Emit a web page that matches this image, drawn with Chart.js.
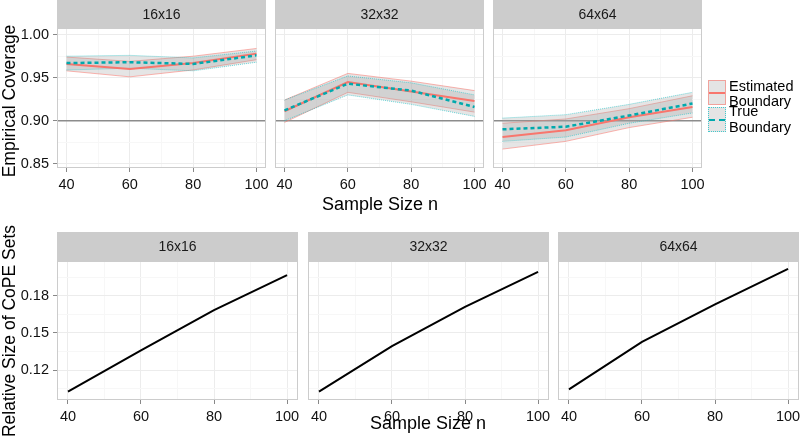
<!DOCTYPE html>
<html>
<head>
<meta charset="utf-8">
<script src="https://cdn.jsdelivr.net/npm/chart.js@4"></script>
<style>
  html, body { margin: 0; padding: 0; background: #fff; }
  #wrap { position: relative; width: 800px; height: 443px; overflow: hidden;
          font-family: "Liberation Sans", Arial, sans-serif; color: #000; }
  #wrap canvas { position: absolute; left: 0; top: 0; }
  .txt { position: absolute; white-space: nowrap; line-height: 16px; }
  .ytitle { position: absolute; font-size: 17.5px; white-space: nowrap;
            transform: translate(-50%, -50%) rotate(-90deg); }
  .xtitle { position: absolute; font-size: 18px; white-space: nowrap;
            transform: translate(-50%, -50%); }
  .key { position: absolute; left: 708px; width: 18px; height: 25px;
         background: #e4e4e4; box-sizing: border-box; }
  .key i { position: absolute; left: 0; right: 0; top: 11px; height: 0; }
</style>
</head>
<body>
<div id="wrap">
  <canvas id="c0" width="800" height="443"></canvas>
  <canvas id="c1" width="800" height="443"></canvas>
  <canvas id="c2" width="800" height="443"></canvas>
  <canvas id="c3" width="800" height="443"></canvas>
  <canvas id="c4" width="800" height="443"></canvas>
  <canvas id="c5" width="800" height="443"></canvas>

  <div class="ytitle" style="left:9px; top:101px;">Empirical Coverage</div>
  <div class="xtitle" style="left:380px; top:204px;">Sample Size n</div>
  <div class="ytitle" style="left:9px; top:331px;">Relative Size of CoPE Sets</div>
  <div class="xtitle" style="left:428px; top:423px;">Sample Size n</div>

  <!-- legend -->
  <div class="key" style="top:80px; border:1px solid rgba(248,118,109,0.6);">
    <i style="border-top:2px solid #F8766D;"></i></div>
  <div class="key" style="top:107px; border:1px dotted rgba(0,191,196,0.7);">
    <i style="border-top:2px dashed #00A9AD;"></i></div>
  <div class="txt" style="left:729px; top:78px; font-size:14.5px;">Estimated</div>
  <div class="txt" style="left:729px; top:93px; font-size:14.5px;">Boundary</div>
  <div class="txt" style="left:729px; top:103px; font-size:14.5px;">True</div>
  <div class="txt" style="left:729px; top:119px; font-size:14.5px;">Boundary</div>
</div>

<script>
// ------------------------------------------------------------------
// Data
// ------------------------------------------------------------------

const nValues = [40, 60, 80, 100];
const facetNames = ["16x16", "32x32", "64x64"];

const xTicks = [40, 60, 80, 100];
const xMinor = [50, 70, 90];
const coverageTicks = [0.85, 0.90, 0.95, 1.00];
const coverageMinor = [0.875, 0.925, 0.975];
const sizeTicks = [0.12, 0.15, 0.18];
const sizeMinor = [0.105, 0.135, 0.165, 0.195];
const nominalLevel = 0.90;

// Estimated boundary coverage, with band
const est16   = [0.966, 0.960, 0.967, 0.978];
const estLo16 = [0.958, 0.951, 0.959, 0.971];
const estHi16 = [0.974, 0.969, 0.975, 0.984];
const est32   = [0.911, 0.945, 0.934, 0.923];
const estLo32 = [0.898, 0.933, 0.922, 0.910];
const estHi32 = [0.924, 0.955, 0.946, 0.935];
const est64   = [0.881, 0.889, 0.904, 0.916];
const estLo64 = [0.867, 0.876, 0.892, 0.904];
const estHi64 = [0.897, 0.902, 0.914, 0.929];

// True boundary coverage, with band
const true16   = [0.967, 0.968, 0.966, 0.976];
const trueLo16 = [0.959, 0.961, 0.958, 0.968];
const trueHi16 = [0.975, 0.976, 0.973, 0.981];
const true32   = [0.912, 0.943, 0.935, 0.916];
const trueLo32 = [0.900, 0.930, 0.919, 0.905];
const trueHi32 = [0.924, 0.952, 0.944, 0.930];
const true64   = [0.890, 0.893, 0.906, 0.920];
const trueLo64 = [0.876, 0.881, 0.897, 0.909];
const trueHi64 = [0.903, 0.907, 0.919, 0.933];

// Relative size of CoPE sets
const size16 = [0.1025, 0.1360, 0.1685, 0.1967];
const size32 = [0.1025, 0.1394, 0.1711, 0.1994];
const size64 = [0.1044, 0.1428, 0.1731, 0.2018];

// ------------------------------------------------------------------
// Layout
// ------------------------------------------------------------------

const W = 800, H = 443;
const Y_AXIS_W = 40;
const X_AXIS_H = 30;

const topPanels = [
  { L: 57,  R: 266 },
  { L: 275, R: 484 },
  { L: 493, R: 702 },
];
const bottomPanels = [
  { L: 57,  R: 298 },
  { L: 308, R: 549 },
  { L: 558, R: 799 },
];

const STRIP_FILL = "#cccccc";
const PANEL_BORDER = "#cccccc";
const GRID_MAJOR = "#ececec";
const GRID_MINOR = "#f7f7f7";
const RED = "#F8766D";
const TEAL = "#00A9AD";

// ------------------------------------------------------------------
// Plugins
// ------------------------------------------------------------------

const stripPlugin = {
  id: "strip",
  afterDraw(chart, args, opts) {
    const { ctx, chartArea: a } = chart;
    ctx.save();
    ctx.fillStyle = STRIP_FILL;
    ctx.fillRect(a.left, a.top - opts.height, a.right - a.left, opts.height);
    ctx.strokeStyle = PANEL_BORDER;
    ctx.lineWidth = 1;
    ctx.strokeRect(a.left + 0.5, a.top + 0.5, a.right - a.left - 1, a.bottom - a.top - 1);
    ctx.fillStyle = "#1a1a1a";
    ctx.font = "14px 'Liberation Sans', Arial, sans-serif";
    ctx.textAlign = "center";
    ctx.textBaseline = "middle";
    ctx.fillText(opts.label, (a.left + a.right) / 2, a.top - opts.height / 2 + 1);
    ctx.restore();
  },
};

const hlinePlugin = {
  id: "hline",
  beforeDatasetsDraw(chart, args, opts) {
    if (opts.value == null) return;
    const { ctx, chartArea: a } = chart;
    const y = chart.scales.y.getPixelForValue(opts.value);
    ctx.save();
    ctx.strokeStyle = "#8c8c8c";
    ctx.lineWidth = 1.5;
    ctx.beginPath();
    ctx.moveTo(a.left, y);
    ctx.lineTo(a.right, y);
    ctx.stroke();
    ctx.restore();
  },
};

// ------------------------------------------------------------------
// Helpers
// ------------------------------------------------------------------

function pts(values) {
  return values.map((v, i) => ({ x: nValues[i], y: v }));
}

function tickScale(major, minor, min, max, fmt, showLabels, fixSize) {
  const all = major.concat(minor).sort((a, b) => a - b);
  const isMajor = v => major.some(m => Math.abs(m - v) < 1e-9);
  return {
    type: "linear",
    min, max,
    afterBuildTicks: s => { s.ticks = all.map(v => ({ value: v })); },
    afterFit: fixSize,
    ticks: {
      display: showLabels,
      autoSkip: false,
      maxRotation: 0,
      padding: 4,
      color: "#111",
      font: { family: "'Liberation Sans', Arial, sans-serif", size: 14.5 },
      callback: v => isMajor(v) ? fmt(v) : "",
    },
    grid: {
      color: c => (c.tick && isMajor(c.tick.value)) ? GRID_MAJOR : GRID_MINOR,
      tickColor: c => (c.tick && isMajor(c.tick.value)) ? "#888" : "rgba(0,0,0,0)",
      tickLength: 4,
      drawTicks: showLabels,
    },
    border: { display: false },
  };
}

function makePanel(id, panel, T, B, stripH, label, yOpts, datasets, hline) {
  const showY = panel.L === 57;
  const yW = showY ? Y_AXIS_W : 0;
  const fixX = s => { s.height = X_AXIS_H; s.paddingLeft = 0; s.paddingRight = 0; };
  const fixY = s => { s.width = yW; s.paddingTop = 0; s.paddingBottom = 0; };

  return new Chart(document.getElementById(id), {
    type: "line",
    data: { datasets },
    options: {
      responsive: false,
      animation: false,
      events: [],
      layout: {
        padding: {
          left: panel.L - yW,
          top: T,
          right: W - panel.R,
          bottom: H - B - X_AXIS_H,
        },
      },
      plugins: {
        legend: { display: false },
        tooltip: { enabled: false },
        strip: { height: stripH, label },
        hline: { value: hline },
      },
      elements: { point: { radius: 0 }, line: { tension: 0 } },
      scales: {
        x: tickScale(xTicks, xMinor, 37, 103, v => String(v), true, fixX),
        y: tickScale(yOpts.major, yOpts.minor, yOpts.min, yOpts.max, v => v.toFixed(2), showY, fixY),
      },
    },
    plugins: [stripPlugin, hlinePlugin],
  });
}

function coverageSets(est, estLo, estHi, tru, truLo, truHi) {
  return [
    { data: pts(tru), borderColor: TEAL, borderWidth: 2.5, borderDash: [4, 3], fill: false },
    { data: pts(est), borderColor: RED, borderWidth: 2, fill: false },
    { data: pts(truHi), borderColor: "rgba(0,191,196,0.55)", borderWidth: 1, borderDash: [1, 1], fill: false },
    { data: pts(truLo), borderColor: "rgba(0,191,196,0.55)", borderWidth: 1, borderDash: [1, 1],
      fill: 2, backgroundColor: "rgba(160,160,160,0.28)" },
    { data: pts(estHi), borderColor: "rgba(248,118,109,0.55)", borderWidth: 1, fill: false },
    { data: pts(estLo), borderColor: "rgba(248,118,109,0.55)", borderWidth: 1,
      fill: 4, backgroundColor: "rgba(160,160,160,0.28)" },
  ];
}

function sizeSets(values) {
  return [{ data: pts(values), borderColor: "#000", borderWidth: 2, fill: false }];
}

// ------------------------------------------------------------------
// Build the six panels
// ------------------------------------------------------------------

const coverageY = { major: coverageTicks, minor: coverageMinor, min: 0.845, max: 1.0078 };
const sizeY = { major: sizeTicks, minor: sizeMinor, min: 0.0958, max: 0.2082 };

const coverageData = [
  coverageSets(est16, estLo16, estHi16, true16, trueLo16, trueHi16),
  coverageSets(est32, estLo32, estHi32, true32, trueLo32, trueHi32),
  coverageSets(est64, estLo64, estHi64, true64, trueLo64, trueHi64),
];
const sizeData = [sizeSets(size16), sizeSets(size32), sizeSets(size64)];

topPanels.forEach((p, i) =>
  makePanel("c" + i, p, 28, 168, 28, facetNames[i], coverageY, coverageData[i], nominalLevel));
bottomPanels.forEach((p, i) =>
  makePanel("c" + (i + 3), p, 261, 400, 29, facetNames[i], sizeY, sizeData[i], null));
</script>
</body>
</html>
